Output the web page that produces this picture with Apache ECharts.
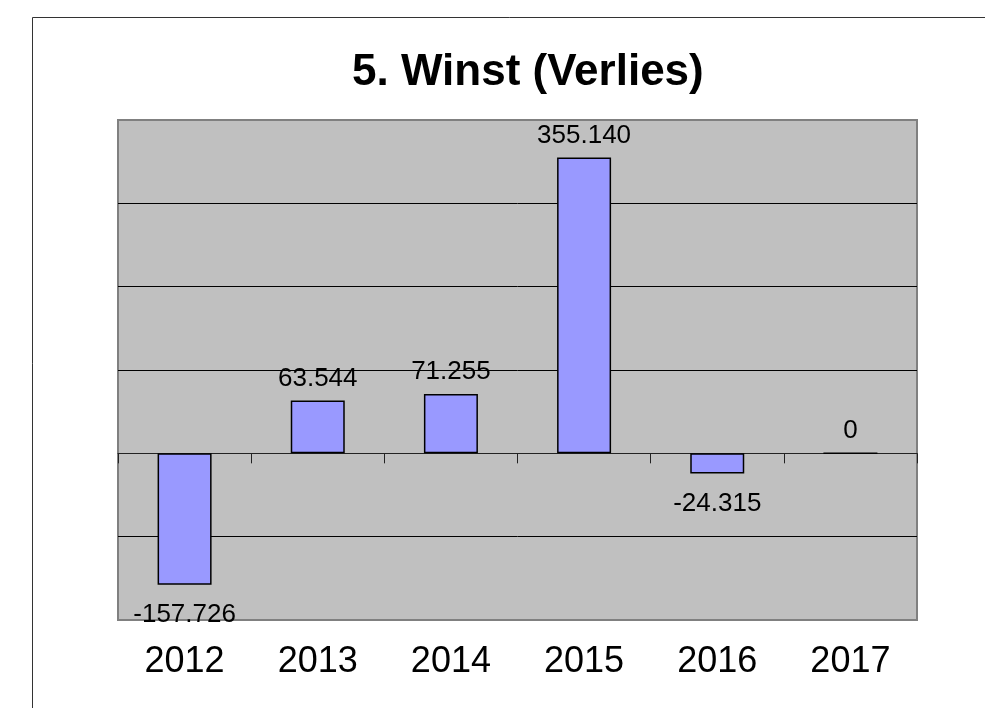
<!DOCTYPE html>
<html lang="nl">
<head>
  <meta http-equiv="Content-Type" content="text/html; charset=UTF-8">
  <title>5. Winst (Verlies)</title>
  <style>
    html, body { margin: 0; padding: 0; background: #fff; }
  </style>
</head>
<body>
  <div id="chart" style="width: 985px; height: 708px;"></div>
  <script src="https://cdn.jsdelivr.net/npm/echarts@6/dist/echarts.min.js"></script>
  <script>
    const years = ['2012', '2013', '2014', '2015', '2016', '2017'];
    const winst = [-157726, 63544, 71255, 355140, -24315, 0];
    const yMin = -200000;
    const yMax = 400000;
    const yStep = 100000;

    // 355140 -> "355.140" (Dutch thousands separator)
    const fmt = (v) => {
      const s = String(Math.abs(v)).replace(/\B(?=(\d{3})+(?!\d))/g, '.');
      return (v < 0 ? '-' : '') + s;
    };

    const font = 'Liberation Sans, Arial, sans-serif';
    const myChart = echarts.init(document.getElementById('chart'));
    const option = {
      animation: false,
      backgroundColor: '#fff',
      title: {
        text: '5. Winst (Verlies)',
        left: 347,
        top: 46,
        textStyle: { fontFamily: font, fontSize: 44, fontWeight: 'bold', color: '#000' }
      },
      graphic: [{
        type: 'rect',
        silent: true,
        shape: { x: 32.5, y: 17.5, width: 1200, height: 1000 },
        style: { fill: 'none', stroke: '#333', lineWidth: 1 }
      }],
      grid: {
        left: 118,
        top: 120,
        width: 799,
        height: 500,
        show: true,
        backgroundColor: '#c0c0c0',
        borderColor: '#808080',
        borderWidth: 2
      },
      xAxis: [{
        type: 'category',
        data: years,
        axisLine: { onZero: true, lineStyle: { color: '#222', width: 1 } },
        axisTick: { show: true, length: 10, lineStyle: { color: '#222' } },
        axisLabel: { show: false }
      }, {
        type: 'category',
        data: years,
        position: 'bottom',
        axisLine: { show: false, onZero: false },
        axisTick: { show: false },
        axisLabel: { margin: 24, fontFamily: font, fontSize: 36, color: '#000' }
      }],
      yAxis: {
        type: 'value',
        min: yMin,
        max: yMax,
        interval: yStep,
        axisLine: { show: false },
        axisTick: { show: false },
        axisLabel: { show: false },
        splitLine: {
          lineStyle: {
            color: ['#808080', '#000', '#000', '#000', '#000', '#000', '#808080'],
            width: 1
          }
        }
      },
      series: [{
        name: 'Winst',
        type: 'bar',
        xAxisIndex: 0,
        // negative values get their label under the bar
        data: winst.map((v) => ({
          value: v,
          label: v < 0 ? { position: 'bottom', distance: 17 } : { position: 'top', distance: 9 }
        })),
        barWidth: 54,
        itemStyle: { color: '#9999ff', borderColor: '#000', borderWidth: 1.5 },
        label: {
          show: true,
          fontFamily: font,
          fontSize: 26,
          color: '#000',
          formatter: (p) => fmt(p.value)
        }
      }]
    };
    myChart.setOption(option);
  </script>
</body>
</html>
